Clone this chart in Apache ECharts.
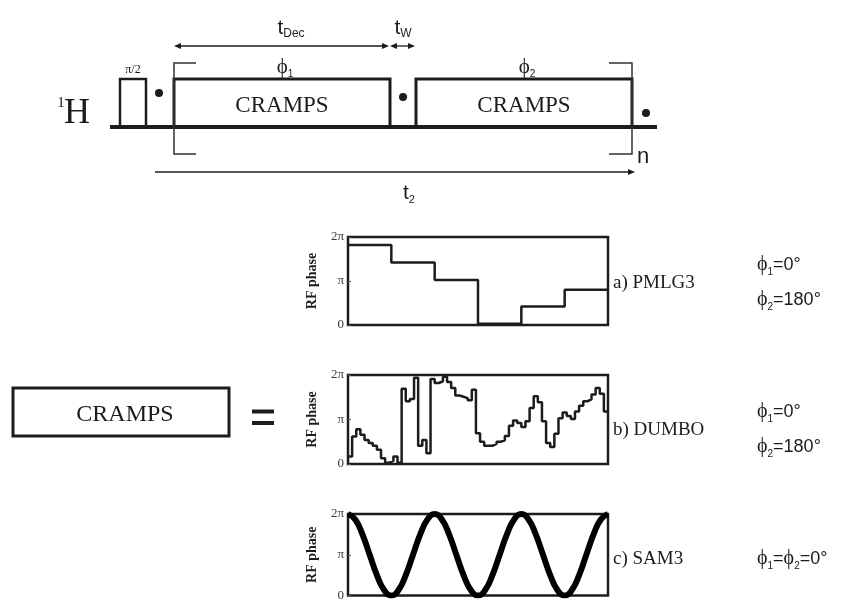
<!DOCTYPE html>
<html><head><meta charset="utf-8">
<script src="https://cdn.jsdelivr.net/npm/echarts@6/dist/echarts.min.js"></script>
<style>html,body{margin:0;padding:0;background:#fff}#c{width:844px;height:602px}</style>
</head><body><div id="c"></div>
<script>
// RF phase of each pulse step, in units of π
const pmlg3Phase = [1.82, 1.42, 1.02, 0.03, 0.42, 0.80];
const dumboPhase = [0.17,0.62,0.78,0.66,0.54,0.47,0.41,0.32,0.13,0.03,0.07,0.17,0.03,
  1.69,1.41,1.46,1.94,0.41,0.54,0.24,1.91,1.82,1.86,1.96,1.84,1.71,1.54,1.51,1.48,1.43,1.67,
  0.69,0.50,0.41,0.41,0.45,0.50,0.53,0.63,0.86,0.98,0.92,0.83,0.96,1.26,1.52,1.39,0.96,0.47,
  0.38,0.68,1.03,1.16,1.08,1.01,1.18,1.31,1.41,1.45,1.56,1.71,1.58,1.18];
// SAM3 phase sampled at equal time steps (3 periods)
const sam3Phase = [2,1.866,1.5,1,0.5,0.134,0,0.134,0.5,1,1.5,1.866,
  2,1.866,1.5,1,0.5,0.134,0,0.134,0.5,1,1.5,1.866,
  2,1.866,1.5,1,0.5,0.134,0,0.134,0.5,1,1.5,1.866,2];
const phaseTickLabels = ['0', 'π', '2π'];
const panelLabels = ['a) PMLG3', 'b) DUMBO', 'c) SAM3'];

const K = '#1c1c1c';
const serif = '"Liberation Serif","Times New Roman",serif';
const sans = '"Liberation Sans",Arial,sans-serif';

function stepData(arr) {
  const d = arr.map((v, i) => [i, v]);
  d.push([arr.length, arr[arr.length - 1]]);
  return d;
}

const grids = [
  {left: 348, top: 237, width: 260, height: 88},
  {left: 348, top: 375, width: 260, height: 89},
  {left: 348, top: 514, width: 260, height: 89}
].map(g => Object.assign(g, {show: true, borderColor: K, borderWidth: 2.5, backgroundColor: 'transparent'}));

const xMax = [pmlg3Phase.length, dumboPhase.length, sam3Phase.length - 1];
const xAxes = xMax.map((m, i) => ({gridIndex: i, type: 'value', min: 0, max: m, show: false}));
const yAxes = [0, 1, 2].map(i => ({
  gridIndex: i, type: 'value', min: 0, max: 2, interval: 1,
  axisLine: {show: false}, splitLine: {show: false},
  axisTick: {show: true, inside: true, length: 3, lineStyle: {color: '#555'}},
  axisLabel: {formatter: v => phaseTickLabels[v], fontFamily: serif, fontSize: 13, color: '#3a3a3a', margin: 4},
  name: 'RF phase', nameLocation: 'middle', nameGap: 29, nameRotate: 90,
  nameTextStyle: {fontFamily: serif, fontWeight: 'bold', fontSize: 14, color: K}
}));

function line(x1, y1, x2, y2, w, c) {
  return {type: 'line', silent: true, shape: {x1, y1, x2, y2}, style: {stroke: c || K, lineWidth: w}};
}
function poly(points, w, c) {
  return {type: 'polyline', silent: true, shape: {points}, style: {stroke: c || K, lineWidth: w, fill: null}};
}
function head(x, y, dir) {
  return {type: 'polygon', silent: true, shape: {points: [[x, y], [x - 7 * dir, y - 3], [x - 7 * dir, y + 3]]}, style: {fill: K}};
}
function dot(cx, cy) {
  return {type: 'circle', silent: true, shape: {cx, cy, r: 4}, style: {fill: K}};
}
function txt(x, y, text, font, extra) {
  return {type: 'text', x, y, silent: true, style: Object.assign({
    text, font, fill: K, align: 'center', verticalAlign: 'middle', textAlign: 'center', textVerticalAlign: 'middle'
  }, extra || {})};
}
function sub(x, y, main, s, mainFont, subFont, rest, restFont, align) {
  const rich = {
    p: {font: mainFont, fill: K, lineHeight: 24, verticalAlign: 'middle'},
    s: {font: subFont, fill: K, lineHeight: 12, verticalAlign: 'bottom'},
    n: {font: restFont || mainFont, fill: K, lineHeight: 24, verticalAlign: 'middle'}
  };
  let text = '{p|' + main + '}{s|' + s + '}';
  if (rest) text += '{n|' + rest + '}';
  return {type: 'text', x, y, silent: true, style: {
    text, rich, align: align || 'center', verticalAlign: 'middle',
    textAlign: align || 'center', textVerticalAlign: 'middle'
  }};
}

const phiFont = '21px ' + serif;
const graphics = [
  // pulse sequence
  line(110, 127, 657, 127, 4),
  poly([[120, 127], [120, 79], [146, 79], [146, 127]], 2.5),
  poly([[174, 127], [174, 79], [390, 79], [390, 127]], 3),
  poly([[416, 127], [416, 79], [632, 79], [632, 127]], 3),
  dot(159, 93), dot(403, 97), dot(646, 113),
  poly([[196, 63], [174, 63], [174, 154], [196, 154]], 1.5, '#333'),
  poly([[609, 63], [632, 63], [632, 154], [609, 154]], 1.5, '#333'),
  line(176, 46, 387, 46, 1.3), head(174, 46, -1), head(389, 46, 1),
  line(392, 46, 413, 46, 1.3), head(390, 46, -1), head(415, 46, 1),
  line(155, 172, 630, 172, 1.3), head(635, 172, 1),
  txt(61, 103, '1', '15px ' + serif),
  txt(77, 114, 'H', '36px ' + serif),
  txt(133, 70, 'π/2', '12px ' + serif),
  txt(282, 106, 'CRAMPS', '23px ' + serif),
  txt(524, 106, 'CRAMPS', '23px ' + serif),
  sub(285, 67, 'ϕ', '1', phiFont, '10px ' + sans),
  sub(527, 67, 'ϕ', '2', phiFont, '10px ' + sans),
  sub(291, 28, 't', 'Dec', '21px ' + sans, '12px ' + sans),
  sub(403, 28, 't', 'W', '21px ' + sans, '12px ' + sans),
  sub(409, 193, 't', '2', '21px ' + sans, '11px ' + sans),
  txt(643, 157, 'n', '22px ' + sans),
  // left CRAMPS block
  {type: 'rect', silent: true, shape: {x: 13, y: 388, width: 216, height: 48}, style: {stroke: K, lineWidth: 3, fill: null}},
  txt(125, 415, 'CRAMPS', '24px ' + serif),
  line(252, 411.5, 274, 411.5, 4), line(252, 423, 274, 423, 4),
  // panel labels
  txt(613, 283, panelLabels[0], '19px ' + serif, {align: 'left', textAlign: 'left'}),
  txt(613, 430, panelLabels[1], '19px ' + serif, {align: 'left', textAlign: 'left'}),
  txt(613, 559, panelLabels[2], '19px ' + serif, {align: 'left', textAlign: 'left'}),
  sub(757, 265, 'ϕ', '1', '20px ' + serif, '10px ' + sans, '=0°', '18px ' + sans, 'left'),
  sub(757, 300, 'ϕ', '2', '20px ' + serif, '10px ' + sans, '=180°', '18px ' + sans, 'left'),
  sub(757, 412, 'ϕ', '1', '20px ' + serif, '10px ' + sans, '=0°', '18px ' + sans, 'left'),
  sub(757, 447, 'ϕ', '2', '20px ' + serif, '10px ' + sans, '=180°', '18px ' + sans, 'left'),
  {type: 'text', x: 757, y: 559, silent: true, style: {
    text: '{p|ϕ}{s|1}{n|=}{p|ϕ}{s|2}{n|=0°}', align: 'left', verticalAlign: 'middle', textAlign: 'left', textVerticalAlign: 'middle',
    rich: {
      p: {font: '20px ' + serif, fill: K, lineHeight: 24, verticalAlign: 'middle'},
      s: {font: '10px ' + sans, fill: K, lineHeight: 12, verticalAlign: 'bottom'},
      n: {font: '18px ' + sans, fill: K, lineHeight: 24, verticalAlign: 'middle'}
    }}}
];

const chart = echarts.init(document.getElementById('c'), null, {renderer: 'canvas'});
chart.setOption({
  animation: false,
  backgroundColor: '#fff',
  grid: grids,
  xAxis: xAxes,
  yAxis: yAxes,
  series: [
    {type: 'line', xAxisIndex: 0, yAxisIndex: 0, step: 'end', data: stepData(pmlg3Phase), symbol: 'none', lineStyle: {color: K, width: 2.5}},
    {type: 'line', xAxisIndex: 1, yAxisIndex: 1, step: 'end', data: stepData(dumboPhase), symbol: 'none', lineStyle: {color: K, width: 2.5}},
    {type: 'line', xAxisIndex: 2, yAxisIndex: 2, smooth: 0.5, data: sam3Phase.map((v, i) => [i, v]), symbol: 'none', lineStyle: {color: '#000', width: 6}}
  ],
  graphic: {elements: graphics}
});
</script>
</body></html>
